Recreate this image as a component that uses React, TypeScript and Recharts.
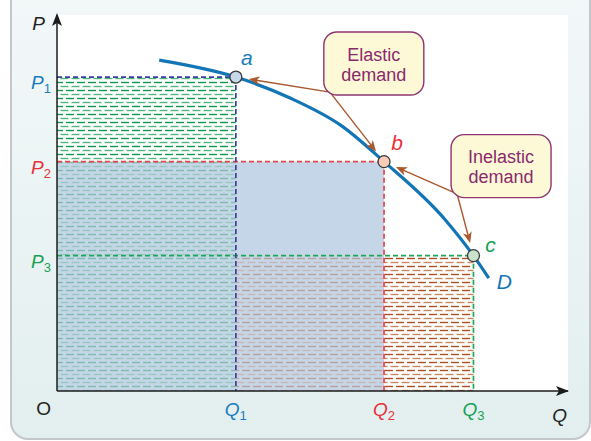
import React from 'react';
import {
  ComposedChart,
  Line,
  XAxis,
  YAxis,
  ReferenceArea,
  ReferenceLine,
  ReferenceDot,
} from 'recharts';

// ---------- data ----------
const demandQ = [2.0, 3.5, 4.55, 5.55, 6.4, 7.6, 8.15, 8.45];
const demandP = [8.8, 8.35, 7.8, 7.07, 6.1, 4.55, 3.6, 3.0];
const pointQ = [3.5, 6.4, 8.15];
const pointP = [8.35, 6.1, 3.6];
const pointNames = ['a', 'b', 'c'];
const subscripts = ['1', '2', '3'];
const curveName = 'D';
const originLabel = 'O';
const priceAxisName = 'P';
const quantityAxisName = 'Q';
const noteLines = [
  ['Elastic', 'demand'],
  ['Inelastic', 'demand'],
];
const noteQ = [6.2, 8.69];
const noteP = [8.71, 5.98];
const arrowFromQ = [5.34, 7.83];
const arrowFromP = [7.95, 5.24];
const arrowTargets = [
  [0, 1],
  [1, 2],
];
const axisMax = 10;

const demandData = demandQ.map((q, i) => ({ q, p: demandP[i] }));

// ---------- styles ----------
const FONT = '"Liberation Sans", Arial, Helvetica, sans-serif';
const labelColors = ['#1a7cc0', '#e8303a', '#17a055'];
const lineColors = ['#3b3e9a', '#e8424b', '#1fa558'];
const pointFills = ['#c6d8ea', '#f8cdb8', '#c9e2cb'];
const curveColor = '#1275b6';
const brown = '#a9592c';
const notePurple = '#8a2a6c';
const labelOffsets = [
  [11, -12],
  [13, -12],
  [17, -4],
];

const YTick = (props: any) => {
  const { x, y, payload } = props;
  const v = payload.value;
  if (v === 0) {
    return (
      <text x={x} y={y + 24} textAnchor="end" fontFamily={FONT} fontSize={19} fill="#222">
        {originLabel}
      </text>
    );
  }
  const i = pointP.indexOf(v);
  return (
    <text x={x} y={y + 12} textAnchor="end" fontFamily={FONT} fill={labelColors[i]}>
      <tspan fontSize={19} fontStyle="italic">{priceAxisName}</tspan>
      <tspan fontSize={13} dy={4}>{subscripts[i]}</tspan>
    </text>
  );
};

const XTick = (props: any) => {
  const { x, y, payload } = props;
  const i = pointQ.indexOf(payload.value);
  return (
    <text x={x} y={y + 25} textAnchor="middle" fontFamily={FONT} fill={labelColors[i]}>
      <tspan fontSize={19} fontStyle="italic">{quantityAxisName}</tspan>
      <tspan fontSize={13} dy={4}>{subscripts[i]}</tspan>
    </text>
  );
};

const arrowShape = (props: any) => {
  const { x1, y1, x2, y2 } = props;
  if ([x1, y1, x2, y2].some((v) => typeof v !== 'number' || isNaN(v))) return <g />;
  const dx = x2 - x1;
  const dy = y2 - y1;
  const len = Math.sqrt(dx * dx + dy * dy);
  const ux = dx / len;
  const uy = dy / len;
  const nx = -uy;
  const ny = ux;
  const tipX = x2 - ux * 13;
  const tipY = y2 - uy * 13;
  const baseX = tipX - ux * 11;
  const baseY = tipY - uy * 11;
  return (
    <g>
      <line x1={x1} y1={y1} x2={tipX - ux * 6} y2={tipY - uy * 6} stroke={brown} strokeWidth={1.4} />
      <path
        d={`M${tipX},${tipY} L${baseX + nx * 4.5},${baseY + ny * 4.5} L${baseX + ux * 3},${baseY + uy * 3} L${baseX - nx * 4.5},${baseY - ny * 4.5} Z`}
        fill={brown}
      />
    </g>
  );
};

export default function App() {
  return (
    <div style={{ position: 'absolute', left: 0, top: 0, width: 591, height: 441, background: '#ffffff', overflow: 'hidden' }}>
      <div
        style={{
          position: 'absolute',
          left: 10,
          top: -20,
          width: 581,
          height: 460,
          boxSizing: 'border-box',
          border: '2px solid #c4c7c9',
          borderBottomLeftRadius: 18,
          borderBottomRightRadius: 18,
          background: 'linear-gradient(#f3f8f9, #e2efee)',
        }}
      />
      <div style={{ position: 'absolute', left: 0, top: 0 }}>
        <ComposedChart
          width={591}
          height={441}
          data={demandData}
          margin={{ top: 15, right: 23, bottom: 0, left: 0 }}
        >
          <defs>
            <pattern id="hatchGreen" patternUnits="userSpaceOnUse" width="11" height="8">
              <line x1="0" y1="2.5" x2="8" y2="2.5" stroke="#0f9a4b" strokeWidth="1.4" />
              <line x1="5.5" y1="6.5" x2="13.5" y2="6.5" stroke="#4fb67a" strokeWidth="1.4" />
              <line x1="-5.5" y1="6.5" x2="2.5" y2="6.5" stroke="#4fb67a" strokeWidth="1.4" />
            </pattern>
            <pattern id="hatchBrown" patternUnits="userSpaceOnUse" width="11" height="8">
              <line x1="0" y1="2.5" x2="8" y2="2.5" stroke="#ac4f1f" strokeWidth="1.4" />
              <line x1="5.5" y1="6.5" x2="13.5" y2="6.5" stroke="#c9875f" strokeWidth="1.4" />
              <line x1="-5.5" y1="6.5" x2="2.5" y2="6.5" stroke="#c9875f" strokeWidth="1.4" />
            </pattern>
          </defs>
          <XAxis
            dataKey="q"
            type="number"
            domain={[0, axisMax]}
            ticks={pointQ}
            interval={0}
            height={50}
            tickSize={0}
            tickMargin={0}
            tickLine={false}
            axisLine={{ stroke: '#1c1c1c', strokeWidth: 1.5 }}
            tick={<XTick />}
            allowDataOverflow
          />
          <YAxis
            type="number"
            domain={[0, axisMax]}
            ticks={[0, ...pointP]}
            interval={0}
            width={57}
            tickSize={0}
            tickMargin={6}
            tickLine={false}
            axisLine={{ stroke: '#1c1c1c', strokeWidth: 1.5 }}
            tick={<YTick />}
            allowDataOverflow
          />
          <ReferenceArea x1={0} x2={axisMax} y1={0} y2={axisMax} fill="#ffffff" fillOpacity={1} stroke="none" />
          <ReferenceArea x1={0} x2={pointQ[1]} y1={0} y2={pointP[1]} fill="#c6d6e9" fillOpacity={1} stroke="none" />
          <ReferenceArea x1={0} x2={pointQ[0]} y1={pointP[1]} y2={pointP[0]} fill="url(#hatchGreen)" fillOpacity={1} stroke="none" />
          <ReferenceArea x1={0} x2={pointQ[0]} y1={0} y2={pointP[1]} fill="url(#hatchGreen)" fillOpacity={0.4} stroke="none" />
          <ReferenceArea x1={pointQ[1]} x2={pointQ[2]} y1={0} y2={pointP[2]} fill="url(#hatchBrown)" fillOpacity={1} stroke="none" />
          <ReferenceArea x1={pointQ[0]} x2={pointQ[1]} y1={0} y2={pointP[2]} fill="url(#hatchBrown)" fillOpacity={0.4} stroke="none" />
          {pointQ.map((q, i) => (
            <ReferenceLine
              key={`h${i}`}
              segment={[{ x: 0, y: pointP[i] }, { x: q, y: pointP[i] }]}
              stroke={lineColors[i]}
              strokeWidth={1.7}
              strokeDasharray="5 3"
            />
          ))}
          {pointQ.map((q, i) => (
            <ReferenceLine
              key={`v${i}`}
              segment={[{ x: q, y: pointP[i] }, { x: q, y: 0 }]}
              stroke={lineColors[i]}
              strokeWidth={1.7}
              strokeDasharray="5 3"
            />
          ))}
          <Line
            type="monotone"
            dataKey="p"
            stroke={curveColor}
            strokeWidth={3.2}
            dot={false}
            activeDot={false}
            isAnimationActive={false}
          />
          {arrowTargets.map((targets, n) =>
            targets.map((t) => (
              <ReferenceLine
                key={`ar${n}-${t}`}
                segment={[{ x: arrowFromQ[n], y: arrowFromP[n] }, { x: pointQ[t], y: pointP[t] }]}
                stroke={brown}
                shape={arrowShape}
              />
            ))
          )}
          {pointQ.map((q, i) => (
            <ReferenceDot
              key={`pt${i}`}
              x={q}
              y={pointP[i]}
              r={6}
              shape={(p: any) => (
                <g>
                  <circle cx={p.cx} cy={p.cy} r={6} fill={pointFills[i]} stroke="#3a3a3a" strokeWidth={1.3} />
                  <text
                    x={p.cx + labelOffsets[i][0]}
                    y={p.cy + labelOffsets[i][1]}
                    textAnchor="middle"
                    fontFamily={FONT}
                    fontSize={21}
                    fontStyle="italic"
                    fill={labelColors[i]}
                  >
                    {pointNames[i]}
                  </text>
                </g>
              )}
            />
          ))}
          <ReferenceDot
            x={demandQ[demandQ.length - 1]}
            y={demandP[demandP.length - 1]}
            r={1}
            shape={(p: any) => (
              <text x={p.cx + 8} y={p.cy + 11} fontFamily={FONT} fontSize={21} fontStyle="italic" fill={curveColor}>
                {curveName}
              </text>
            )}
          />
          {noteLines.map((lines, n) => (
            <ReferenceDot
              key={`note${n}`}
              x={noteQ[n]}
              y={noteP[n]}
              r={1}
              shape={(p: any) => (
                <g>
                  <rect
                    x={p.cx - 50}
                    y={p.cy - 31.5}
                    width={100}
                    height={63}
                    rx={13}
                    fill="#fdf9d7"
                    stroke="#8e3470"
                    strokeWidth={1.4}
                  />
                  {lines.map((s, k) => (
                    <text
                      key={k}
                      x={p.cx}
                      y={p.cy - 3 + k * 20}
                      textAnchor="middle"
                      fontFamily={FONT}
                      fontSize={18}
                      fill={notePurple}
                    >
                      {s}
                    </text>
                  ))}
                </g>
              )}
            />
          ))}
          <ReferenceDot
            x={axisMax}
            y={0}
            r={1}
            shape={(p: any) => (
              <g>
                <path d={`M${p.cx + 1},${p.cy} L${p.cx - 12},${p.cy - 5} L${p.cx - 9},${p.cy} L${p.cx - 12},${p.cy + 5} Z`} fill="#1c1c1c" />
                <text x={p.cx - 1} y={p.cy + 31} textAnchor="end" fontFamily={FONT} fontSize={19} fontStyle="italic" fill="#222">
                  {quantityAxisName}
                </text>
              </g>
            )}
          />
          <ReferenceDot
            x={0}
            y={axisMax}
            r={1}
            shape={(p: any) => (
              <g>
                <path d={`M${p.cx},${p.cy - 2} L${p.cx - 5},${p.cy + 11} L${p.cx},${p.cy + 8} L${p.cx + 5},${p.cy + 11} Z`} fill="#1c1c1c" />
                <text x={p.cx - 12} y={p.cy + 15} textAnchor="end" fontFamily={FONT} fontSize={19} fontStyle="italic" fill="#222">
                  {priceAxisName}
                </text>
              </g>
            )}
          />
        </ComposedChart>
      </div>
    </div>
  );
}
